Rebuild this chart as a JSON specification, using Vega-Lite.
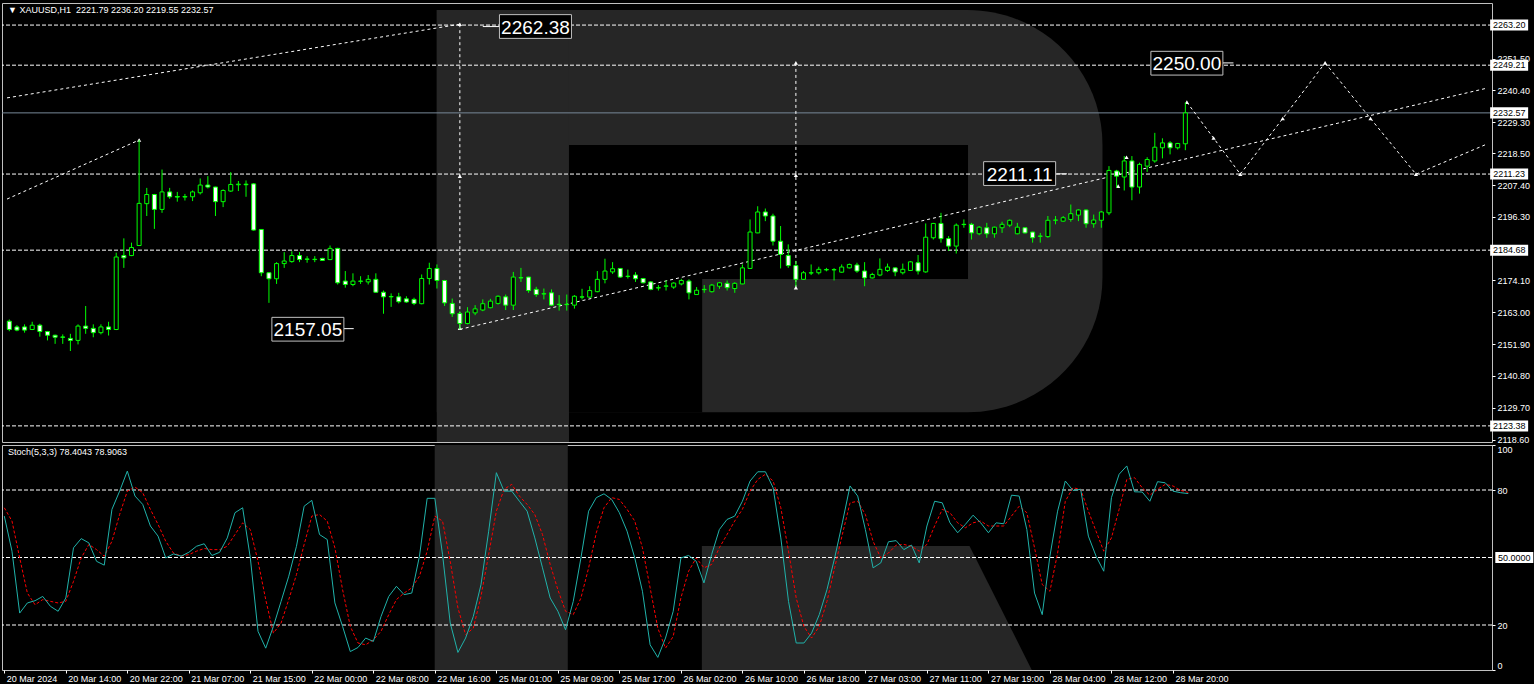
{
  "$schema": "https://vega.github.io/schema/vega-lite/v6.json",
  "background": "#000000",
  "padding": {"left": 1, "top": 2, "right": 0, "bottom": 0},
  "bounds": "flush",
  "spacing": 3,
  "config": {
    "view": {"stroke": "#c0c0c0", "strokeWidth": 1},
    "axis": {"grid": false, "domain": false, "labelColor": "#ffffff", "tickColor": "#ffffff", "labelFont": "Liberation Sans", "labelFontSize": 9, "tickSize": 3, "labelPadding": 2, "labelOverlap": false, "labelBound": false}
  },
  "datasets": {
    "bars": [
      {"i":0,"o":2159.9,"h":2160.5,"l":2156.4,"c":2157.0,"k":68.4,"d":72.1},
      {"i":1,"o":2157.9,"h":2158.5,"l":2156.4,"c":2156.8,"k":52.8,"d":66.2},
      {"i":2,"o":2157.9,"h":2158.8,"l":2155.9,"c":2156.8,"k":25.3,"d":49.8},
      {"i":3,"o":2157.0,"h":2159.7,"l":2156.8,"c":2158.5,"k":29.8,"d":34.2},
      {"i":4,"o":2158.5,"h":2159.0,"l":2154.5,"c":2156.3,"k":30.8,"d":29.0},
      {"i":5,"o":2156.3,"h":2156.5,"l":2153.2,"c":2155.0,"k":32.7,"d":31.3},
      {"i":6,"o":2155.0,"h":2155.2,"l":2152.0,"c":2154.3,"k":28.3,"d":30.5},
      {"i":7,"o":2154.4,"h":2155.3,"l":2152.0,"c":2154.3,"k":26.1,"d":29.8},
      {"i":8,"o":2153.9,"h":2155.5,"l":2149.5,"c":2153.2,"k":32.0,"d":30.5},
      {"i":9,"o":2153.2,"h":2158.8,"l":2151.8,"c":2158.2,"k":54.3,"d":39.4},
      {"i":10,"o":2158.2,"h":2165.2,"l":2155.5,"c":2157.4,"k":58.4,"d":49.8},
      {"i":11,"o":2157.4,"h":2158.8,"l":2154.3,"c":2155.9,"k":56.5,"d":55.8},
      {"i":12,"o":2155.9,"h":2158.8,"l":2155.3,"c":2157.9,"k":48.3,"d":53.5},
      {"i":13,"o":2157.9,"h":2159.7,"l":2154.9,"c":2157.0,"k":46.6,"d":50.6},
      {"i":14,"o":2157.0,"h":2183.8,"l":2156.8,"c":2182.3,"k":71.4,"d":57.2},
      {"i":15,"o":2182.8,"h":2188.8,"l":2178.5,"c":2182.0,"k":79.5,"d":69.1},
      {"i":16,"o":2182.8,"h":2187.3,"l":2182.6,"c":2185.6,"k":88.4,"d":79.5},
      {"i":17,"o":2186.3,"h":2223.1,"l":2186.2,"c":2201.0,"k":77.3,"d":81.3},
      {"i":18,"o":2200.9,"h":2206.4,"l":2196.6,"c":2204.1,"k":73.6,"d":78.8},
      {"i":19,"o":2204.1,"h":2204.3,"l":2192.1,"c":2198.9,"k":64.0,"d":71.4},
      {"i":20,"o":2198.9,"h":2212.8,"l":2197.7,"c":2205.0,"k":59.5,"d":64.7},
      {"i":21,"o":2205.0,"h":2206.4,"l":2202.6,"c":2203.3,"k":49.8,"d":57.2},
      {"i":22,"o":2203.4,"h":2205.0,"l":2201.6,"c":2203.2,"k":51.6,"d":52.0},
      {"i":23,"o":2203.2,"h":2204.3,"l":2202.0,"c":2203.4,"k":50.6,"d":50.6},
      {"i":24,"o":2203.3,"h":2205.5,"l":2201.8,"c":2205.0,"k":52.3,"d":51.3},
      {"i":25,"o":2204.7,"h":2209.7,"l":2204.1,"c":2207.4,"k":55.0,"d":52.8},
      {"i":26,"o":2207.4,"h":2210.5,"l":2206.2,"c":2206.7,"k":56.1,"d":54.0},
      {"i":27,"o":2206.7,"h":2206.8,"l":2196.6,"c":2201.6,"k":50.9,"d":53.5},
      {"i":28,"o":2201.6,"h":2205.9,"l":2199.7,"c":2205.5,"k":52.3,"d":53.5},
      {"i":29,"o":2205.3,"h":2211.9,"l":2205.0,"c":2207.6,"k":58.7,"d":55.0},
      {"i":30,"o":2207.5,"h":2208.8,"l":2205.3,"c":2207.7,"k":69.9,"d":60.2},
      {"i":31,"o":2207.7,"h":2209.0,"l":2203.3,"c":2207.5,"k":72.1,"d":65.4},
      {"i":32,"o":2207.8,"h":2208.1,"l":2191.5,"c":2191.7,"k":49.8,"d":62.4},
      {"i":33,"o":2191.9,"h":2192.0,"l":2175.6,"c":2176.8,"k":17.2,"d":48.3},
      {"i":34,"o":2176.8,"h":2177.0,"l":2166.3,"c":2174.7,"k":9.7,"d":31.3},
      {"i":35,"o":2174.7,"h":2180.5,"l":2172.9,"c":2180.0,"k":19.4,"d":16.4},
      {"i":36,"o":2180.0,"h":2184.0,"l":2178.5,"c":2180.9,"k":30.5,"d":20.9},
      {"i":37,"o":2180.7,"h":2184.3,"l":2180.3,"c":2182.8,"k":41.7,"d":31.3},
      {"i":38,"o":2182.8,"h":2184.0,"l":2180.5,"c":2181.4,"k":55.0,"d":42.4},
      {"i":39,"o":2181.6,"h":2182.6,"l":2180.3,"c":2181.5,"k":72.8,"d":55.8},
      {"i":40,"o":2181.4,"h":2182.6,"l":2180.5,"c":2181.5,"k":75.4,"d":68.4},
      {"i":41,"o":2181.8,"h":2182.0,"l":2180.9,"c":2181.1,"k":60.2,"d":69.1},
      {"i":42,"o":2181.4,"h":2186.3,"l":2181.2,"c":2185.3,"k":58.0,"d":66.2},
      {"i":43,"o":2185.3,"h":2185.5,"l":2172.7,"c":2173.3,"k":29.8,"d":54.3},
      {"i":44,"o":2173.9,"h":2177.4,"l":2171.6,"c":2172.7,"k":19.4,"d":35.7},
      {"i":45,"o":2172.7,"h":2176.6,"l":2172.1,"c":2173.9,"k":8.2,"d":19.4},
      {"i":46,"o":2173.8,"h":2175.6,"l":2172.9,"c":2173.9,"k":10.0,"d":12.0},
      {"i":47,"o":2173.6,"h":2176.0,"l":2172.7,"c":2174.5,"k":14.2,"d":11.2},
      {"i":48,"o":2174.5,"h":2176.6,"l":2169.9,"c":2170.0,"k":12.7,"d":13.4},
      {"i":49,"o":2170.0,"h":2170.6,"l":2162.5,"c":2168.4,"k":23.8,"d":17.2},
      {"i":50,"o":2168.4,"h":2169.6,"l":2164.9,"c":2168.5,"k":32.7,"d":24.6},
      {"i":51,"o":2168.4,"h":2169.8,"l":2166.1,"c":2166.7,"k":37.2,"d":31.3},
      {"i":52,"o":2167.7,"h":2168.6,"l":2166.3,"c":2166.6,"k":33.5,"d":34.2},
      {"i":53,"o":2167.5,"h":2168.1,"l":2165.5,"c":2166.1,"k":34.2,"d":36.5},
      {"i":54,"o":2166.0,"h":2176.2,"l":2165.8,"c":2174.8,"k":50.6,"d":41.7},
      {"i":55,"o":2174.8,"h":2180.3,"l":2172.7,"c":2178.3,"k":76.3,"d":52.8},
      {"i":56,"o":2178.3,"h":2179.7,"l":2171.3,"c":2174.1,"k":76.3,"d":68.4},
      {"i":57,"o":2174.1,"h":2174.3,"l":2165.2,"c":2166.3,"k":51.3,"d":66.2},
      {"i":58,"o":2166.1,"h":2167.8,"l":2161.4,"c":2162.5,"k":20.9,"d":48.3},
      {"i":59,"o":2162.6,"h":2163.4,"l":2157.05,"c":2159.1,"k":7.8,"d":27.6},
      {"i":60,"o":2159.1,"h":2164.8,"l":2158.8,"c":2163.1,"k":14.2,"d":15.7},
      {"i":61,"o":2162.8,"h":2165.5,"l":2162.0,"c":2164.2,"k":23.8,"d":18.6},
      {"i":62,"o":2163.8,"h":2167.5,"l":2163.4,"c":2166.0,"k":37.9,"d":32.7},
      {"i":63,"o":2164.6,"h":2167.7,"l":2164.4,"c":2166.9,"k":61.7,"d":51.3},
      {"i":64,"o":2166.1,"h":2168.9,"l":2165.7,"c":2168.6,"k":87.7,"d":70.6},
      {"i":65,"o":2168.4,"h":2169.2,"l":2163.8,"c":2165.5,"k":79.5,"d":80.3},
      {"i":66,"o":2165.5,"h":2177.1,"l":2163.8,"c":2175.3,"k":79.5,"d":82.5},
      {"i":67,"o":2175.1,"h":2178.5,"l":2173.6,"c":2175.0,"k":75.0,"d":77.3},
      {"i":68,"o":2175.3,"h":2175.4,"l":2169.8,"c":2170.6,"k":70.6,"d":73.6},
      {"i":69,"o":2171.0,"h":2171.9,"l":2168.4,"c":2169.2,"k":58.7,"d":69.1},
      {"i":70,"o":2169.4,"h":2171.3,"l":2167.5,"c":2169.5,"k":45.4,"d":60.2},
      {"i":71,"o":2169.8,"h":2171.0,"l":2165.2,"c":2165.5,"k":32.0,"d":46.9},
      {"i":72,"o":2165.7,"h":2169.0,"l":2163.6,"c":2165.8,"k":26.1,"d":35.7},
      {"i":73,"o":2165.8,"h":2169.2,"l":2163.6,"c":2165.7,"k":17.9,"d":26.1},
      {"i":74,"o":2165.5,"h":2169.0,"l":2164.3,"c":2168.6,"k":30.5,"d":24.6},
      {"i":75,"o":2168.3,"h":2171.2,"l":2167.5,"c":2168.4,"k":49.8,"d":32.0},
      {"i":76,"o":2168.3,"h":2172.1,"l":2168.1,"c":2170.6,"k":70.6,"d":45.4},
      {"i":77,"o":2170.2,"h":2177.4,"l":2170.0,"c":2174.5,"k":76.6,"d":61.0},
      {"i":78,"o":2174.5,"h":2181.7,"l":2173.1,"c":2177.4,"k":78.3,"d":72.1},
      {"i":79,"o":2177.1,"h":2180.5,"l":2176.4,"c":2178.2,"k":75.8,"d":76.6},
      {"i":80,"o":2178.3,"h":2178.4,"l":2175.0,"c":2175.3,"k":69.9,"d":75.8},
      {"i":81,"o":2175.5,"h":2177.9,"l":2174.8,"c":2175.6,"k":61.7,"d":71.4},
      {"i":82,"o":2176.0,"h":2177.0,"l":2173.6,"c":2174.7,"k":49.8,"d":66.2},
      {"i":83,"o":2174.8,"h":2175.0,"l":2173.1,"c":2173.3,"k":35.0,"d":54.3},
      {"i":84,"o":2173.6,"h":2173.9,"l":2170.7,"c":2171.0,"k":11.2,"d":36.5},
      {"i":85,"o":2171.5,"h":2172.5,"l":2170.6,"c":2171.6,"k":5.6,"d":18.6},
      {"i":86,"o":2172.1,"h":2174.1,"l":2170.6,"c":2172.2,"k":14.2,"d":9.7},
      {"i":87,"o":2171.8,"h":2173.5,"l":2171.2,"c":2173.2,"k":26.1,"d":14.9},
      {"i":88,"o":2172.9,"h":2174.7,"l":2172.4,"c":2174.1,"k":49.8,"d":32.0},
      {"i":89,"o":2173.9,"h":2174.5,"l":2167.5,"c":2169.8,"k":50.9,"d":43.9},
      {"i":90,"o":2169.2,"h":2171.8,"l":2169.1,"c":2170.7,"k":48.3,"d":49.8},
      {"i":91,"o":2170.9,"h":2172.5,"l":2169.8,"c":2171.0,"k":38.7,"d":45.4},
      {"i":92,"o":2170.2,"h":2172.9,"l":2169.9,"c":2172.5,"k":51.3,"d":46.9},
      {"i":93,"o":2172.1,"h":2173.6,"l":2171.2,"c":2173.3,"k":62.4,"d":54.3},
      {"i":94,"o":2173.1,"h":2174.1,"l":2170.6,"c":2171.6,"k":66.9,"d":60.2},
      {"i":95,"o":2171.3,"h":2173.5,"l":2169.8,"c":2173.1,"k":68.4,"d":66.2},
      {"i":96,"o":2172.9,"h":2179.7,"l":2172.8,"c":2178.5,"k":75.0,"d":71.4},
      {"i":97,"o":2178.3,"h":2195.4,"l":2178.1,"c":2191.0,"k":84.0,"d":79.5},
      {"i":98,"o":2190.7,"h":2200.0,"l":2190.6,"c":2198.0,"k":88.1,"d":84.7},
      {"i":99,"o":2198.0,"h":2199.2,"l":2194.8,"c":2196.6,"k":88.1,"d":87.0},
      {"i":100,"o":2196.6,"h":2197.4,"l":2186.3,"c":2187.8,"k":81.0,"d":84.0},
      {"i":101,"o":2187.8,"h":2193.1,"l":2178.3,"c":2183.2,"k":58.7,"d":72.1},
      {"i":102,"o":2182.8,"h":2186.7,"l":2178.5,"c":2179.3,"k":30.5,"d":52.8},
      {"i":103,"o":2179.3,"h":2180.9,"l":2172.0,"c":2174.5,"k":12.0,"d":32.0},
      {"i":104,"o":2174.5,"h":2177.4,"l":2174.3,"c":2176.8,"k":12.0,"d":19.4},
      {"i":105,"o":2176.7,"h":2179.7,"l":2176.0,"c":2176.8,"k":16.4,"d":14.2},
      {"i":106,"o":2176.8,"h":2178.9,"l":2176.2,"c":2178.0,"k":24.6,"d":19.4},
      {"i":107,"o":2177.9,"h":2178.5,"l":2177.3,"c":2177.8,"k":35.7,"d":30.5},
      {"i":108,"o":2177.8,"h":2178.4,"l":2174.1,"c":2177.9,"k":49.8,"d":45.4},
      {"i":109,"o":2177.0,"h":2179.7,"l":2176.8,"c":2178.8,"k":65.4,"d":60.2},
      {"i":110,"o":2178.5,"h":2180.0,"l":2178.3,"c":2179.7,"k":81.8,"d":74.3},
      {"i":111,"o":2179.5,"h":2180.3,"l":2176.8,"c":2177.4,"k":77.3,"d":75.0},
      {"i":112,"o":2177.4,"h":2180.5,"l":2172.1,"c":2175.0,"k":62.4,"d":69.1},
      {"i":113,"o":2175.0,"h":2176.8,"l":2174.8,"c":2176.2,"k":45.4,"d":57.2},
      {"i":114,"o":2176.0,"h":2181.8,"l":2175.6,"c":2178.0,"k":47.6,"d":49.8},
      {"i":115,"o":2177.6,"h":2180.0,"l":2177.1,"c":2178.8,"k":57.0,"d":52.0},
      {"i":116,"o":2178.5,"h":2178.7,"l":2175.6,"c":2177.1,"k":57.5,"d":55.5},
      {"i":117,"o":2176.8,"h":2180.0,"l":2176.2,"c":2178.0,"k":53.5,"d":55.8},
      {"i":118,"o":2177.6,"h":2180.9,"l":2177.4,"c":2180.6,"k":55.5,"d":55.0},
      {"i":119,"o":2180.3,"h":2183.0,"l":2176.2,"c":2177.4,"k":47.6,"d":52.8},
      {"i":120,"o":2177.1,"h":2194.0,"l":2176.8,"c":2189.2,"k":64.0,"d":55.8},
      {"i":121,"o":2189.0,"h":2194.2,"l":2188.4,"c":2194.0,"k":75.0,"d":64.0},
      {"i":122,"o":2194.0,"h":2197.7,"l":2187.3,"c":2188.7,"k":74.3,"d":71.4},
      {"i":123,"o":2188.7,"h":2189.6,"l":2184.4,"c":2186.1,"k":65.4,"d":69.9},
      {"i":124,"o":2186.1,"h":2194.0,"l":2183.5,"c":2193.4,"k":61.0,"d":65.4},
      {"i":125,"o":2193.6,"h":2195.4,"l":2192.5,"c":2193.7,"k":64.7,"d":63.2},
      {"i":126,"o":2193.7,"h":2194.2,"l":2188.4,"c":2190.7,"k":68.8,"d":65.4},
      {"i":127,"o":2190.4,"h":2193.1,"l":2189.9,"c":2192.7,"k":65.4,"d":66.2},
      {"i":128,"o":2192.5,"h":2194.2,"l":2189.0,"c":2190.4,"k":61.0,"d":64.0},
      {"i":129,"o":2190.4,"h":2192.9,"l":2189.0,"c":2192.7,"k":65.4,"d":64.0},
      {"i":130,"o":2192.5,"h":2194.6,"l":2190.7,"c":2193.7,"k":65.0,"d":64.0},
      {"i":131,"o":2193.4,"h":2195.4,"l":2192.7,"c":2195.1,"k":77.7,"d":68.4},
      {"i":132,"o":2190.4,"h":2194.2,"l":2190.2,"c":2192.7,"k":77.3,"d":72.8},
      {"i":133,"o":2192.5,"h":2192.7,"l":2190.5,"c":2190.7,"k":62.4,"d":69.9},
      {"i":134,"o":2191.0,"h":2191.1,"l":2187.3,"c":2189.0,"k":34.2,"d":54.3},
      {"i":135,"o":2189.5,"h":2190.7,"l":2187.3,"c":2189.6,"k":24.6,"d":38.0},
      {"i":136,"o":2189.4,"h":2196.6,"l":2189.0,"c":2195.1,"k":50.6,"d":35.0},
      {"i":137,"o":2195.1,"h":2196.6,"l":2193.7,"c":2195.2,"k":70.6,"d":52.0},
      {"i":138,"o":2194.8,"h":2196.6,"l":2194.6,"c":2196.0,"k":84.0,"d":75.0},
      {"i":139,"o":2195.4,"h":2200.6,"l":2194.6,"c":2197.4,"k":79.8,"d":81.0},
      {"i":140,"o":2196.9,"h":2198.9,"l":2194.8,"c":2198.7,"k":80.3,"d":80.3},
      {"i":141,"o":2198.7,"h":2198.9,"l":2192.5,"c":2193.9,"k":59.5,"d":70.6},
      {"i":142,"o":2193.9,"h":2197.1,"l":2192.5,"c":2195.2,"k":50.6,"d":61.7},
      {"i":143,"o":2195.1,"h":2198.3,"l":2192.5,"c":2198.0,"k":43.9,"d":52.8},
      {"i":144,"o":2197.7,"h":2214.0,"l":2196.9,"c":2212.5,"k":76.6,"d":58.7},
      {"i":145,"o":2212.3,"h":2212.7,"l":2206.4,"c":2210.5,"k":87.0,"d":71.4},
      {"i":146,"o":2210.2,"h":2217.5,"l":2205.5,"c":2215.8,"k":90.7,"d":84.7},
      {"i":147,"o":2215.8,"h":2217.5,"l":2202.1,"c":2206.7,"k":79.2,"d":85.5},
      {"i":148,"o":2206.7,"h":2215.2,"l":2204.4,"c":2214.6,"k":79.1,"d":81.0},
      {"i":149,"o":2214.0,"h":2217.1,"l":2212.0,"c":2216.3,"k":75.0,"d":77.7},
      {"i":150,"o":2215.8,"h":2225.6,"l":2215.2,"c":2220.6,"k":83.7,"d":80.3},
      {"i":151,"o":2220.4,"h":2223.7,"l":2216.7,"c":2222.1,"k":83.2,"d":82.5},
      {"i":152,"o":2222.1,"h":2222.7,"l":2218.1,"c":2220.4,"k":79.5,"d":81.8},
      {"i":153,"o":2220.4,"h":2222.1,"l":2219.8,"c":2221.9,"k":78.8,"d":79.8},
      {"i":154,"o":2221.79,"h":2236.2,"l":2219.55,"c":2232.57,"k":78.4043,"d":78.9063}
    ],
    "levels": [{"p": 2263.2}, {"p": 2249.21}, {"p": 2211.23}, {"p": 2184.68}, {"p": 2123.38}],
    "last": [{"p": 2232.57}],
    "segments": [
      {"x0": -0.3, "p0": 2237.8, "x1": 59, "p1": 2263.5},
      {"x0": -0.3, "p0": 2202.5, "x1": 17, "p1": 2223.1},
      {"x0": 59, "p0": 2263.5, "x1": 59, "p1": 2157.5},
      {"x0": 103, "p0": 2250.0, "x1": 103, "p1": 2171.6},
      {"x0": 59, "p0": 2157.05, "x1": 193.5, "p1": 2241.2},
      {"x0": 154.2, "p0": 2236.3, "x1": 161.2, "p1": 2211.2},
      {"x0": 161.2, "p0": 2211.2, "x1": 172.3, "p1": 2250.0},
      {"x0": 172.3, "p0": 2250.0, "x1": 184.2, "p1": 2211.2},
      {"x0": 184.2, "p0": 2211.2, "x1": 193.5, "p1": 2221.7}
    ],
    "leaders": [
      {"x0": 62.0, "x1": 64.2, "p": 2262.68},
      {"x0": 43.8, "x1": 45.1, "p": 2157.3},
      {"x0": 137.1, "x1": 138.5, "p": 2211.3},
      {"x0": 158.9, "x1": 160.3, "p": 2250.0}
    ],
    "markers": [
      {"x": 17, "p": 2223.1},
      {"x": 59, "p": 2263.5}, {"x": 59, "p": 2210.5}, {"x": 59, "p": 2157.5},
      {"x": 103, "p": 2250.0}, {"x": 103, "p": 2210.8}, {"x": 103, "p": 2171.6},
      {"x": 145.2, "p": 2207.0}, {"x": 145.3, "p": 2211.6}, {"x": 146.3, "p": 2217.1},
      {"x": 154.2, "p": 2236.3}, {"x": 157.7, "p": 2223.8}, {"x": 161.2, "p": 2211.2},
      {"x": 166.75, "p": 2230.6}, {"x": 172.3, "p": 2250.0}, {"x": 178.25, "p": 2230.6},
      {"x": 184.2, "p": 2211.2}
    ],
    "labels": [
      {"x": 68.9, "p": 2262.7, "t": "2262.38"},
      {"x": 39.1, "p": 2157.1, "t": "2157.05"},
      {"x": 132.3, "p": 2211.4, "t": "2211.11"},
      {"x": 154.2, "p": 2249.9, "t": "2250.00"}
    ],
    "logo": [
      {"part": "bowl", "x0": 55.98, "x1": 143.15, "p0": 2128.16, "p1": 2268.5},
      {"part": "stem", "x0": 55.98, "x1": 73.29, "p0": 2117.76, "p1": 2268.5},
      {"part": "hole", "x0": 73.29, "x1": 125.54, "p0": 2174.66, "p1": 2221.4},
      {"part": "hole", "x0": 73.29, "x1": 90.73, "p0": 2128.16, "p1": 2174.66}
    ],
    "logo2": [{"x0": 55.98, "x1": 73.29, "v0": 0, "v1": 100}],
    "leg": [{"x": 90.73, "top": 55.06}, {"x": 125.54, "top": 55.06}, {"x": 133.64, "top": 0}],
    "stochlevels": [{"v": 20}, {"v": 50}, {"v": 80}]
  },
  "vconcat": [
    {
      "width": 1490,
      "height": 439,
      "title": {"text": "▼ XAUUSD,H1\u00a0 2221.79 2236.20 2219.55 2232.57", "anchor": "start", "frame": "group", "offset": -12, "dx": 6, "color": "#ffffff", "fontSize": 9, "font": "Liberation Sans", "fontWeight": "normal"},
      "layer": [
        {
          "data": {"name": "logo"},
          "transform": [{"filter": "datum.part == 'bowl'"}],
          "mark": {"type": "rect", "color": "#262626", "cornerRadiusTopRight": 135, "cornerRadiusBottomRight": 135},
          "encoding": {
            "x": {"field": "x0", "type": "quantitative", "scale": {"domain": [-0.3, 193.5], "nice": false, "zero": false}, "axis": null},
            "x2": {"field": "x1"},
            "y": {"field": "p0", "type": "quantitative", "scale": {"domain": [2117.76, 2270.9], "nice": false, "zero": false},
                  "axis": {"orient": "right", "title": null, "values": [2118.6, 2129.7, 2140.8, 2151.9, 2163.0, 2174.1, 2196.3, 2207.4, 2218.5, 2229.3, 2240.4, 2251.5], "tickCount": 100, "format": ".2f", "labelOverlap": false, "labelBound": false}},
            "y2": {"field": "p1"}
          }
        },
        {
          "data": {"name": "logo"},
          "transform": [{"filter": "datum.part == 'stem'"}],
          "mark": {"type": "rect", "color": "#262626"},
          "encoding": {
            "x": {"field": "x0", "type": "quantitative", "scale": {"domain": [-0.3, 193.5], "nice": false, "zero": false}, "axis": null},
            "x2": {"field": "x1"},
            "y": {"field": "p0", "type": "quantitative", "scale": {"domain": [2117.76, 2270.9], "nice": false, "zero": false}, "axis": {"title": null}},
            "y2": {"field": "p1"}
          }
        },
        {
          "data": {"name": "logo"},
          "transform": [{"filter": "datum.part == 'hole'"}],
          "mark": {"type": "rect", "color": "#000000"},
          "encoding": {
            "x": {"field": "x0", "type": "quantitative", "scale": {"domain": [-0.3, 193.5], "nice": false, "zero": false}, "axis": null},
            "x2": {"field": "x1"},
            "y": {"field": "p0", "type": "quantitative", "scale": {"domain": [2117.76, 2270.9], "nice": false, "zero": false}, "axis": {"title": null}},
            "y2": {"field": "p1"}
          }
        },
        {
          "data": {"name": "levels"},
          "mark": {"type": "rule", "color": "#ffffff", "strokeWidth": 1, "strokeDash": [4, 2]},
          "encoding": {
            "y": {"field": "p", "type": "quantitative", "scale": {"domain": [2117.76, 2270.9], "nice": false, "zero": false}, "axis": {"title": null}}
          }
        },
        {
          "data": {"name": "last"},
          "mark": {"type": "rule", "color": "#778899", "strokeWidth": 1},
          "encoding": {
            "y": {"field": "p", "type": "quantitative", "scale": {"domain": [2117.76, 2270.9], "nice": false, "zero": false}, "axis": {"title": null}}
          }
        },
        {
          "data": {"name": "segments"},
          "mark": {"type": "rule", "color": "#ffffff", "strokeWidth": 1, "strokeDash": [3, 3], "clip": true},
          "encoding": {
            "x": {"field": "x0", "type": "quantitative", "scale": {"domain": [-0.3, 193.5], "nice": false, "zero": false}, "axis": null},
            "x2": {"field": "x1"},
            "y": {"field": "p0", "type": "quantitative", "scale": {"domain": [2117.76, 2270.9], "nice": false, "zero": false}, "axis": {"title": null}},
            "y2": {"field": "p1"}
          }
        },
        {
          "data": {"name": "leaders"},
          "mark": {"type": "rule", "color": "#ffffff", "strokeWidth": 1},
          "encoding": {
            "x": {"field": "x0", "type": "quantitative", "scale": {"domain": [-0.3, 193.5], "nice": false, "zero": false}, "axis": null},
            "x2": {"field": "x1"},
            "y": {"field": "p", "type": "quantitative", "scale": {"domain": [2117.76, 2270.9], "nice": false, "zero": false}, "axis": {"title": null}}
          }
        },
        {
          "data": {"name": "markers"},
          "mark": {"type": "point", "shape": "triangle-up", "filled": true, "color": "#ffffff", "size": 18, "opacity": 1},
          "encoding": {
            "x": {"field": "x", "type": "quantitative", "scale": {"domain": [-0.3, 193.5], "nice": false, "zero": false}, "axis": null},
            "y": {"field": "p", "type": "quantitative", "scale": {"domain": [2117.76, 2270.9], "nice": false, "zero": false}, "axis": {"title": null}}
          }
        },
        {
          "data": {"name": "bars"},
          "mark": {"type": "rule", "color": "#00ff00", "strokeWidth": 1},
          "encoding": {
            "x": {"field": "i", "type": "quantitative", "scale": {"domain": [-0.3, 193.5], "nice": false, "zero": false}, "axis": null},
            "y": {"field": "l", "type": "quantitative", "scale": {"domain": [2117.76, 2270.9], "nice": false, "zero": false}, "axis": {"title": null}},
            "y2": {"field": "h"}
          }
        },
        {
          "data": {"name": "bars"},
          "mark": {"type": "bar", "width": 4, "stroke": "#00ff00", "strokeWidth": 1},
          "encoding": {
            "x": {"field": "i", "type": "quantitative", "scale": {"domain": [-0.3, 193.5], "nice": false, "zero": false}, "axis": null},
            "y": {"field": "o", "type": "quantitative", "scale": {"domain": [2117.76, 2270.9], "nice": false, "zero": false}, "axis": {"title": null}},
            "y2": {"field": "c"},
            "fill": {"condition": {"test": "datum.c >= datum.o", "value": "#000000"}, "value": "#ffffff"}
          }
        },
        {
          "data": {"name": "labels"},
          "mark": {"type": "point", "shape": "M-1,-0.33L1,-0.33L1,0.33L-1,0.33Z", "filled": true, "fill": "#000000", "stroke": "#c0c0c0", "strokeWidth": 1, "size": 5184, "opacity": 1},
          "encoding": {
            "x": {"field": "x", "type": "quantitative", "scale": {"domain": [-0.3, 193.5], "nice": false, "zero": false}, "axis": null},
            "y": {"field": "p", "type": "quantitative", "scale": {"domain": [2117.76, 2270.9], "nice": false, "zero": false}, "axis": {"title": null}}
          }
        },
        {
          "data": {"name": "labels"},
          "mark": {"type": "text", "color": "#ffffff", "font": "Liberation Sans", "fontSize": 19, "align": "center", "baseline": "middle", "dy": 1},
          "encoding": {
            "x": {"field": "x", "type": "quantitative", "scale": {"domain": [-0.3, 193.5], "nice": false, "zero": false}, "axis": null},
            "y": {"field": "p", "type": "quantitative", "scale": {"domain": [2117.76, 2270.9], "nice": false, "zero": false}, "axis": {"title": null}},
            "text": {"field": "t"}
          }
        },
        {
          "data": {"name": "levels"},
          "mark": {"type": "point", "shape": "M-1,-0.29L1,-0.29L1,0.29L-1,0.29Z", "filled": true, "fill": "#ffffff", "strokeWidth": 0, "size": 1444, "opacity": 1, "clip": false},
          "encoding": {
            "x": {"datum": 196.4, "type": "quantitative", "scale": {"domain": [-0.3, 193.5], "nice": false, "zero": false}, "axis": null},
            "y": {"field": "p", "type": "quantitative", "scale": {"domain": [2117.76, 2270.9], "nice": false, "zero": false}, "axis": {"title": null}}
          }
        },
        {
          "data": {"name": "levels"},
          "mark": {"type": "text", "color": "#000000", "font": "Liberation Sans", "fontSize": 9, "align": "center", "baseline": "middle", "clip": false},
          "encoding": {
            "x": {"datum": 196.4, "type": "quantitative", "scale": {"domain": [-0.3, 193.5], "nice": false, "zero": false}, "axis": null},
            "y": {"field": "p", "type": "quantitative", "scale": {"domain": [2117.76, 2270.9], "nice": false, "zero": false}, "axis": {"title": null}},
            "text": {"field": "p", "format": ".2f"}
          }
        },
        {
          "data": {"name": "last"},
          "mark": {"type": "point", "shape": "M-1,-0.29L1,-0.29L1,0.29L-1,0.29Z", "filled": true, "fill": "#ffffff", "strokeWidth": 0, "size": 1444, "opacity": 1, "clip": false},
          "encoding": {
            "x": {"datum": 196.4, "type": "quantitative", "scale": {"domain": [-0.3, 193.5], "nice": false, "zero": false}, "axis": null},
            "y": {"field": "p", "type": "quantitative", "scale": {"domain": [2117.76, 2270.9], "nice": false, "zero": false}, "axis": {"title": null}}
          }
        },
        {
          "data": {"name": "last"},
          "mark": {"type": "text", "color": "#000000", "font": "Liberation Sans", "fontSize": 9, "align": "center", "baseline": "middle", "clip": false},
          "encoding": {
            "x": {"datum": 196.4, "type": "quantitative", "scale": {"domain": [-0.3, 193.5], "nice": false, "zero": false}, "axis": null},
            "y": {"field": "p", "type": "quantitative", "scale": {"domain": [2117.76, 2270.9], "nice": false, "zero": false}, "axis": {"title": null}},
            "text": {"field": "p", "format": ".2f"}
          }
        }
      ]
    },
    {
      "width": 1490,
      "height": 225,
      "title": {"text": "Stoch(5,3,3) 78.4043 78.9063", "anchor": "start", "frame": "group", "offset": -12, "dx": 6, "color": "#ffffff", "fontSize": 9, "font": "Liberation Sans", "fontWeight": "normal"},
      "layer": [
        {
          "data": {"name": "logo2"},
          "mark": {"type": "rect", "color": "#262626"},
          "encoding": {
            "x": {"field": "x0", "type": "quantitative", "scale": {"domain": [-0.3, 193.5], "nice": false, "zero": false},
                  "axis": {"orient": "bottom", "title": null, "values": [0, 8, 16, 24, 32, 40, 48, 56, 64, 72, 80, 88, 96, 104, 112, 120, 128, 136, 144, 152], "tickCount": 100,
                           "labelExpr": "['20 Mar 2024','20 Mar 14:00','20 Mar 22:00','21 Mar 07:00','21 Mar 15:00','22 Mar 00:00','22 Mar 08:00','22 Mar 16:00','25 Mar 01:00','25 Mar 09:00','25 Mar 17:00','26 Mar 02:00','26 Mar 10:00','26 Mar 18:00','27 Mar 03:00','27 Mar 11:00','27 Mar 19:00','28 Mar 04:00','28 Mar 12:00','28 Mar 20:00'][round(datum.value / 8)]",
                           "labelAlign": "left", "labelOffset": 2, "labelPadding": 1, "tickSize": 3, "labelFlush": false, "labelOverlap": false}},
            "x2": {"field": "x1"},
            "y": {"field": "v0", "type": "quantitative", "scale": {"domain": [0, 100], "nice": false, "zero": false},
                  "axis": {"orient": "right", "title": null, "values": [0, 20, 80, 100], "tickCount": 100, "labelFlush": true, "labelOverlap": false}},
            "y2": {"field": "v1"}
          }
        },
        {
          "data": {"name": "leg"},
          "mark": {"type": "area", "color": "#262626", "opacity": 1},
          "encoding": {
            "x": {"field": "x", "type": "quantitative", "scale": {"domain": [-0.3, 193.5], "nice": false, "zero": false}, "axis": {"title": null}},
            "y": {"field": "top", "type": "quantitative", "scale": {"domain": [0, 100], "nice": false, "zero": false}, "axis": {"title": null}},
            "y2": {"datum": 0}
          }
        },
        {
          "data": {"name": "stochlevels"},
          "mark": {"type": "rule", "color": "#ffffff", "strokeWidth": 1, "strokeDash": [4, 2]},
          "encoding": {
            "y": {"field": "v", "type": "quantitative", "scale": {"domain": [0, 100], "nice": false, "zero": false}, "axis": {"title": null}}
          }
        },
        {
          "data": {"name": "bars"},
          "mark": {"type": "line", "color": "#ff0000", "strokeWidth": 1, "strokeDash": [3, 2]},
          "encoding": {
            "x": {"field": "i", "type": "quantitative", "scale": {"domain": [-0.3, 193.5], "nice": false, "zero": false}, "axis": {"title": null}},
            "y": {"field": "d", "type": "quantitative", "scale": {"domain": [0, 100], "nice": false, "zero": false}, "axis": {"title": null}}
          }
        },
        {
          "data": {"name": "bars"},
          "mark": {"type": "line", "color": "#20b2aa", "strokeWidth": 1},
          "encoding": {
            "x": {"field": "i", "type": "quantitative", "scale": {"domain": [-0.3, 193.5], "nice": false, "zero": false}, "axis": {"title": null}},
            "y": {"field": "k", "type": "quantitative", "scale": {"domain": [0, 100], "nice": false, "zero": false}, "axis": {"title": null}}
          }
        },
        {
          "data": {"name": "stochlevels"},
          "transform": [{"filter": "datum.v == 50"}],
          "mark": {"type": "point", "shape": "M-1,-0.29L1,-0.29L1,0.29L-1,0.29Z", "filled": true, "fill": "#ffffff", "strokeWidth": 0, "size": 1444, "opacity": 1, "clip": false},
          "encoding": {
            "x": {"datum": 196.4, "type": "quantitative", "scale": {"domain": [-0.3, 193.5], "nice": false, "zero": false}, "axis": {"title": null}},
            "y": {"field": "v", "type": "quantitative", "scale": {"domain": [0, 100], "nice": false, "zero": false}, "axis": {"title": null}}
          }
        },
        {
          "data": {"name": "stochlevels"},
          "transform": [{"filter": "datum.v == 50"}],
          "mark": {"type": "text", "color": "#000000", "font": "Liberation Sans", "fontSize": 9, "align": "center", "baseline": "middle", "clip": false},
          "encoding": {
            "x": {"datum": 196.4, "type": "quantitative", "scale": {"domain": [-0.3, 193.5], "nice": false, "zero": false}, "axis": {"title": null}},
            "y": {"field": "v", "type": "quantitative", "scale": {"domain": [0, 100], "nice": false, "zero": false}, "axis": {"title": null}},
            "text": {"field": "v", "format": ".4f"}
          }
        }
      ]
    }
  ]
}
